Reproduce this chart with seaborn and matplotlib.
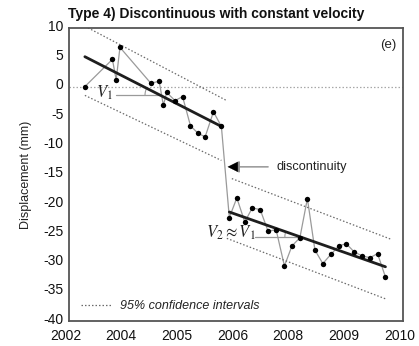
import numpy as np
import pandas as pd
import matplotlib
matplotlib.use("Agg")
import matplotlib.pyplot as plt
import matplotlib.transforms as mtransforms
from matplotlib.lines import Line2D
import seaborn as sns

# --- observations (decimal time, displacement in mm) ---
obs_time = [2002.38, 2003.04, 2003.13, 2003.22, 2003.96, 2004.16, 2004.26, 2004.34,
            2004.54, 2004.72, 2004.91, 2005.08, 2005.26, 2005.46, 2005.65,
            2005.84, 2006.02, 2006.21, 2006.39, 2006.58, 2006.77, 2006.96, 2007.16,
            2007.34, 2007.53, 2007.71, 2007.89, 2008.08, 2008.27, 2008.46, 2008.64,
            2008.83, 2009.02, 2009.21, 2009.39, 2009.58]
obs_disp = [0.0, 4.65, 1.13, 6.7, 0.57, 0.91, -3.2, -1.0,
            -2.4, -1.7, -6.7, -7.9, -8.6, -4.3, -6.8,
            -22.35, -19.0, -23.1, -20.7, -21.0, -24.7, -24.4, -30.6,
            -27.2, -25.8, -19.1, -27.9, -30.2, -28.65, -27.2, -26.8,
            -28.2, -28.9, -29.2, -28.5, -32.5]

# --- fitted linear trends, one per segment (start/end) ---
trend1_time = [2002.38, 2005.65]
trend1_disp = [5.1, -6.8]
trend2_time = [2005.84, 2009.58]
trend2_disp = [-21.4, -30.75]

# --- 95% confidence bounds for each segment ---
upper1_time = [2002.38, 2005.78]
upper1_disp = [10.3, -2.4]
lower1_time = [2002.38, 2005.65]
lower1_disp = [-1.5, -12.6]
upper2_time = [2005.90, 2009.73]
upper2_disp = [-15.7, -26.1]
lower2_time = [2005.78, 2009.61]
lower2_disp = [-25.9, -36.3]

# --- axis ticks ---
x_ticks = [2002.0, 2003.333, 2004.667, 2006.0, 2007.333, 2008.667, 2010.0]
x_tick_labels = ["2002", "2004", "2005", "2006", "2008", "2009", "2010"]
y_ticks = [10, 5, 0, -5, -10, -15, -20, -25, -30, -35, -40]

sns.set_theme(style="white")
plt.rcParams["font.family"] = ["Liberation Sans", "DejaVu Sans"]
plt.rcParams["mathtext.fontset"] = "stix"
plt.rcParams["axes.unicode_minus"] = False

fig = plt.figure(figsize=(4.19, 3.46), dpi=100)
ax = fig.add_axes([0.1647, 0.0723, 0.7971, 0.8468])
ax.set_xlim(2002, 2010)
ax.set_ylim(-40, 10)

dotted = (0, (1.2, 1.6))
ci_color = "#6a6a6a"

# zero reference line
ax.axhline(0, color="#a8a8a8", lw=0.9, linestyle=dotted, zorder=1)

obs = pd.DataFrame({"time": obs_time, "disp": obs_disp})
# thin line joining consecutive observations
sns.lineplot(data=obs, x="time", y="disp", sort=False, estimator=None,
             color="#9a9a9a", lw=0.9, ax=ax, zorder=2)

# confidence bounds
for t, d in [(upper1_time, upper1_disp), (lower1_time, lower1_disp),
             (upper2_time, upper2_disp), (lower2_time, lower2_disp)]:
    sns.lineplot(x=t, y=d, color=ci_color, lw=0.9, linestyle=dotted,
                 estimator=None, ax=ax, zorder=2)

# trend lines
for t, d in [(trend1_time, trend1_disp), (trend2_time, trend2_disp)]:
    sns.lineplot(x=t, y=d, color="#1e1e1e", lw=2.0, estimator=None, ax=ax, zorder=3)

sns.scatterplot(data=obs, x="time", y="disp", color="black", s=15,
                linewidth=0, ax=ax, zorder=4)

# velocity annotations: horizontal leader to the trend line plus small angle arc
def px_per_unit():
    p0 = ax.transData.transform((2002, 0))
    p1 = ax.transData.transform((2003, 1))
    return p1[0] - p0[0], p1[1] - p0[1]

fig.canvas.draw()
sx, sy = px_per_unit()

def velocity_mark(t_start, t_end, trend_t, trend_d, label, label_t, label_d):
    slope = (trend_d[1] - trend_d[0]) / (trend_t[1] - trend_t[0])
    y_cross = trend_d[0] + slope * (t_end - trend_t[0])
    ax.plot([t_start, t_end], [y_cross, y_cross], color="#9a9a9a", lw=0.9, zorder=2)
    ang = np.degrees(np.arctan(-slope * sy / sx))
    r = 15.0
    th = np.radians(np.linspace(180 - ang, 180, 20))
    ax.plot(t_end + r * np.cos(th) / sx, y_cross + r * np.sin(th) / sy,
            color="#9a9a9a", lw=0.8, zorder=2)
    ax.text(label_t, label_d, label, fontsize=12, ha="center", va="center",
            color="#222222", zorder=5)

velocity_mark(2003.13, 2004.18, trend1_time, trend1_disp, r"$V_1$", 2002.84, -1.0)
velocity_mark(2006.45, 2007.53, trend2_time, trend2_disp, r"$V_2 \approx V_1$", 2005.87, -24.9)

# discontinuity marker
ax.annotate("", xy=(2005.80, -13.7), xytext=(2006.77, -13.7),
            arrowprops=dict(arrowstyle="-|>,head_length=0.6,head_width=0.3",
                            color="#8a8a8a", lw=1.0, shrinkA=0, shrinkB=0), zorder=5)
ax.annotate("", xy=(2005.80, -13.7), xytext=(2006.0, -13.7),
            arrowprops=dict(arrowstyle="-|>,head_length=0.6,head_width=0.3",
                            color="black", lw=0.1, shrinkA=0, shrinkB=0), zorder=6)
ax.text(2006.98, -13.7, "discontinuity", fontsize=9.2, ha="left", va="center",
        color="#222222")

ax.text(0.955, 0.942, "(e)", transform=ax.transAxes, fontsize=9.5,
        ha="center", va="center", color="#222222")

# legend for the dotted bounds
handle = Line2D([], [], color=ci_color, lw=0.9, linestyle=dotted)
leg = ax.legend([handle], ["95% confidence intervals"], loc="lower left",
                bbox_to_anchor=(0.01, 0.0), frameon=False, handlelength=2.4,
                handletextpad=0.7, borderaxespad=0.3,
                prop={"style": "italic", "size": 9})
for txt in leg.get_texts():
    txt.set_color("#222222")

ax.set_xticks(x_ticks)
ax.set_xticklabels(x_tick_labels)
ax.set_yticks(y_ticks)
ax.tick_params(axis="both", direction="in", length=3, width=0.8, color="#9a9a9a",
               labelsize=10, labelcolor="#111111", pad=5.5)
ax.tick_params(axis="y", pad=4)

for lbl in ax.get_yticklabels():
    lbl.set_transform(lbl.get_transform() +
                      mtransforms.ScaledTranslation(0, 2 / 72, fig.dpi_scale_trans))
for lbl in ax.get_xticklabels():
    lbl.set_transform(lbl.get_transform() +
                      mtransforms.ScaledTranslation(-2.5 / 72, 0, fig.dpi_scale_trans))

ax.set_xlabel("")
ax.set_ylabel("Displacement (mm)", fontsize=9, color="#222222", labelpad=8)
ax.set_title("Type 4) Discontinuous with constant velocity", loc="left",
             fontsize=10, fontweight="bold", color="#111111", pad=7, x=-0.003)

for s in ax.spines.values():
    s.set_color("#555555")
    s.set_linewidth(1.3)

fig.savefig("out.png", dpi=100)
